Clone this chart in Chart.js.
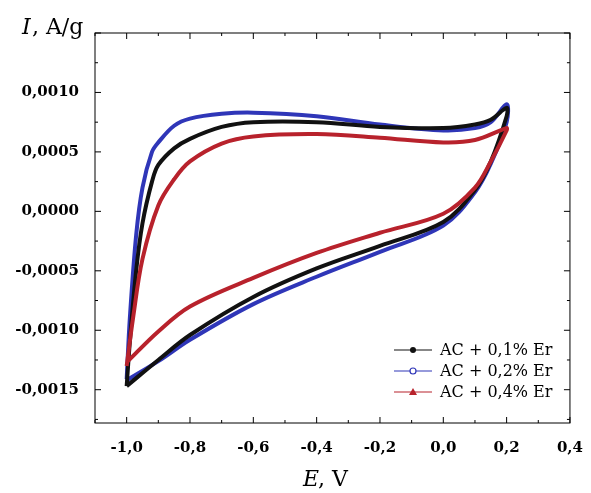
<!DOCTYPE html>
<html>
<head>
<meta charset="utf-8">
<script src="https://cdn.jsdelivr.net/npm/chart.js@4"></script>
<style>
  body { margin: 0; background: #fff; }
  #wrap { width: 591px; height: 493px; }
</style>
</head>
<body>
<div id="wrap"><canvas id="cv"></canvas></div>
<script>
'use strict';
const seriesNames = ['AC + 0,1% Er', 'AC + 0,2% Er', 'AC + 0,4% Er'];
const seriesColors = ['#111111', '#2f36b8', '#b8222c'];
const xTicks = [-1.0, -0.8, -0.6, -0.4, -0.2, 0.0, 0.2, 0.4];
const yTicks = [-0.0015, -0.0010, -0.0005, 0.0000, 0.0005, 0.0010];

// loops: forward (upper) branch then reverse (lower) branch
const e01 = [-1.0, -0.99, -0.97, -0.95, -0.92, -0.9, -0.85, -0.8, -0.7, -0.6, -0.4, -0.2, 0.0, 0.1, 0.15, 0.2,
             0.2, 0.15, 0.1, 0.0, -0.2, -0.4, -0.6, -0.8, -0.9, -1.0];
const i01 = [-0.00147, -0.0011, -0.0005, -0.0001, 0.00025, 0.00039, 0.00053, 0.00061, 0.00071, 0.00075, 0.00075, 0.00071, 0.0007, 0.00073, 0.00077, 0.00087,
             0.0008, 0.00042, 0.00018, -0.00009, -0.00029, -0.00048, -0.00072, -0.00104, -0.00125, -0.00147];
const e02 = [-1.0, -0.99, -0.97, -0.95, -0.92, -0.9, -0.85, -0.8, -0.7, -0.6, -0.4, -0.2, 0.0, 0.1, 0.15, 0.2,
             0.2, 0.15, 0.1, 0.0, -0.2, -0.4, -0.6, -0.8, -0.9, -1.0];
const i02 = [-0.00141, -0.0009, -0.0002, 0.0002, 0.0005, 0.00058, 0.00072, 0.00078, 0.00082, 0.00083, 0.0008, 0.00073, 0.00068, 0.0007, 0.00075, 0.0009,
             0.00075, 0.0004, 0.00016, -0.00012, -0.00034, -0.00055, -0.00078, -0.00108, -0.00126, -0.00142];
const e04 = [-1.0, -0.98, -0.95, -0.9, -0.85, -0.8, -0.7, -0.6, -0.4, -0.2, 0.0, 0.1, 0.2,
             0.2, 0.15, 0.1, 0.0, -0.2, -0.4, -0.6, -0.8, -0.9, -1.0];
const i04 = [-0.0013, -0.0009, -0.0004, 0.00005, 0.00027, 0.00042, 0.00057, 0.00063, 0.00065, 0.00062, 0.00058, 0.0006, 0.0007,
             0.00068, 0.00042, 0.0002, -0.00002, -0.00018, -0.00035, -0.00056, -0.0008, -0.00101, -0.00127];

const pts = (xs, ys) => xs.map((x, k) => ({ x: x, y: ys[k] }));
const fmt = (v, d) => v.toFixed(d).replace('.', ',').replace(/^-0,0+$/, '0,0000');

const frame = {
  id: 'frame',
  afterDraw(c) {
    const ctx = c.ctx, a = c.chartArea, sx = c.scales.x, sy = c.scales.y;
    ctx.save();
    ctx.strokeStyle = '#000';
    ctx.lineWidth = 1;
    ctx.strokeRect(a.left, a.top, a.right - a.left, a.bottom - a.top);
    for (let v = -1.1; v <= 0.401; v += 0.1) {
      const px = sx.getPixelForValue(v);
      const major = Math.abs(Math.round(v * 10) % 2) === 0;
      const len = major ? 6 : 3;
      ctx.beginPath();
      ctx.moveTo(px, a.bottom); ctx.lineTo(px, a.bottom - len);
      ctx.moveTo(px, a.top); ctx.lineTo(px, a.top + len);
      ctx.stroke();
    }
    for (let v = -0.00175; v <= 0.00151; v += 0.00025) {
      const py = sy.getPixelForValue(v);
      const major = Math.abs(Math.round(v / 0.00025)) % 2 === 0;
      const len = major ? 6 : 3;
      ctx.beginPath();
      ctx.moveTo(a.left, py); ctx.lineTo(a.left + len, py);
      ctx.moveTo(a.right, py); ctx.lineTo(a.right - len, py);
      ctx.stroke();
    }
    // axis titles
    ctx.fillStyle = '#000';
    ctx.textBaseline = 'alphabetic';
    ctx.font = 'italic 22px "DejaVu Serif", "Liberation Serif", serif';
    ctx.fillText('I', 22, 34);
    ctx.font = '22px "DejaVu Serif", "Liberation Serif", serif';
    ctx.fillText(', A/g', 32, 34);
    ctx.font = 'italic 22px "DejaVu Serif", "Liberation Serif", serif';
    ctx.fillText('E', 303, 486);
    ctx.font = '22px "DejaVu Serif", "Liberation Serif", serif';
    ctx.fillText(', V', 318, 486);
    // legend
    const markers = ['circle', 'circle', 'triangle'];
    ctx.font = '16px "DejaVu Serif", "Liberation Serif", serif';
    ctx.textBaseline = 'middle';
    seriesNames.forEach((name, k) => {
      const y = 350 + k * 21;
      ctx.strokeStyle = seriesColors[k];
      ctx.fillStyle = seriesColors[k];
      ctx.lineWidth = 1.2;
      ctx.beginPath(); ctx.moveTo(394, y); ctx.lineTo(432, y); ctx.stroke();
      ctx.beginPath();
      if (markers[k] === 'triangle') {
        ctx.moveTo(413, y - 4); ctx.lineTo(417, y + 3); ctx.lineTo(409, y + 3); ctx.closePath(); ctx.fill();
      } else {
        ctx.arc(413, y, 3, 0, Math.PI * 2);
        if (k === 1) { ctx.fillStyle = '#fff'; ctx.fill(); ctx.stroke(); } else ctx.fill();
      }
      ctx.fillStyle = '#000';
      ctx.fillText(name, 440, y + 1);
    });
    ctx.restore();
  }
};

const mk = (label, data, k) => ({
  label: label, data: data, showLine: true, tension: 0.35,
  borderColor: seriesColors[k], borderWidth: 4,
  pointRadius: 0
});

new Chart(document.getElementById('cv'), {
  type: 'scatter',
  data: {
    datasets: [
      mk(seriesNames[2], pts(e04, i04), 2),
      mk(seriesNames[0], pts(e01, i01), 0),
      mk(seriesNames[1], pts(e02, i02), 1)
    ]
  },
  options: {
    responsive: true, maintainAspectRatio: false, animation: false,
    layout: { padding: { top: 33, right: 18, left: 0, bottom: 0 } },
    plugins: { legend: { display: false }, tooltip: { enabled: false } },
    scales: {
      x: {
        type: 'linear', min: -1.1, max: 0.4,
        grid: { display: false }, border: { display: false },
        afterBuildTicks: s => { s.ticks = xTicks.map(v => ({ value: v })); },
        afterFit: s => { s.height = 70; },
        ticks: { color: '#000', padding: 8, maxRotation: 0,
          font: { family: '"DejaVu Serif", "Liberation Serif", serif', size: 15, weight: 'bold' },
          callback: v => fmt(v, 1) }
      },
      y: {
        type: 'linear', min: -0.00178, max: 0.0015,
        grid: { display: false }, border: { display: false },
        afterBuildTicks: s => { s.ticks = yTicks.map(v => ({ value: v })); },
        afterFit: s => { s.width = 95; },
        ticks: { color: '#000', padding: 8,
          font: { family: '"DejaVu Serif", "Liberation Serif", serif', size: 15, weight: 'bold' },
          callback: v => fmt(v, 4) }
      }
    }
  },
  plugins: [frame]
});
</script>
</body>
</html>
